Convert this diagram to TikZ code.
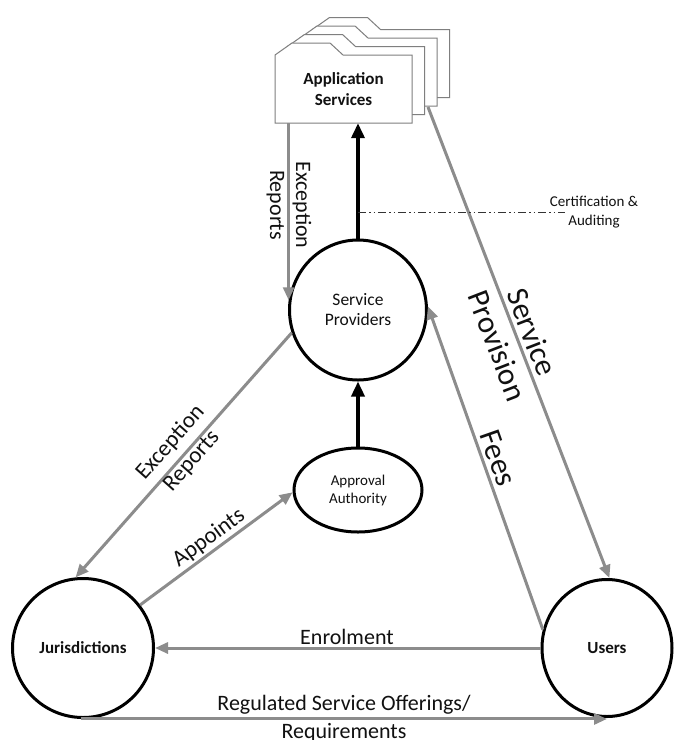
\documentclass[tikz,border=0pt]{standalone}
\usepackage{fontspec}
\setmainfont{Carlito}
\usetikzlibrary{arrows.meta,shapes.geometric}
\definecolor{lgray}{HTML}{8C8C8C}
\definecolor{cgray}{HTML}{7F7F7F}
\definecolor{txt}{HTML}{111111}
\newcommand{\myfs}[2]{\fontsize{#1}{#2}\selectfont}
\begin{document}
\begin{tikzpicture}[x=1pt,y=-1pt,
  every node/.style={text=txt},
  entity/.style={ellipse, draw=black, line width=3pt, fill=white, inner sep=0pt, align=center},
  grayarrow/.style={draw=lgray, line width=3pt, -{Triangle[length=13pt,width=11pt]}},
  blackarrow/.style={draw=black, line width=3.5pt, -{Triangle[length=15pt,width=13pt]}},
  card/.style={draw=cgray, line width=1pt, fill=white},
  lbl/.style={align=center, inner sep=0pt},
]
\useasboundingbox[fill=white] (0,0) rectangle (674,740);

% application service cards
\foreach \k in {3,2,1,0}{
  \draw[card] ({275+12.5*\k},{123-8.5*\k}) -- ++(0,-68) -- ++(17,-12) -- ++(38,0) -- ++(13,12)
    -- ({412+12.5*\k},{55-8.5*\k}) -- ++(0,68) -- cycle;
}
\node[lbl, minimum width=137pt, minimum height=68pt, font=\bfseries\myfs{17}{21}] (as) at (343.5,89) {Application\\Services};

% entities
\node[entity, minimum width=137pt, minimum height=140pt, font=\myfs{17.5}{20}] (sp) at (358,310) {Service\\Providers};
\node[entity, minimum width=128pt, minimum height=84pt, font=\myfs{15}{18}] (aa) at (358,490) {Approval\\Authority};
\node[entity, minimum width=141pt, minimum height=139pt, font=\bfseries\myfs{17}{20}] (ju) at (83,648) {Jurisdictions};
\node[entity, minimum width=130pt, minimum height=137pt, font=\bfseries\myfs{17}{20}] (us) at (607,648) {Users};

% black arrows
\draw[blackarrow] (sp.north) -- (sp.north |- as.south);
\draw[blackarrow] (aa.north) -- (aa.north |- sp.south);

% gray arrows
\coordinate (spstart) at (428,107);
\draw[grayarrow] (sp.172 |- as.south) -- (sp.172);
\draw[grayarrow] (sp.199) -- (ju.96);
\draw[grayarrow] (ju.37) -- (aa.182);
\draw[grayarrow] (spstart) -- (us.88);
\draw[grayarrow] (us.164) -- (sp.3);
\draw[grayarrow] (us.west) -- (ju.east);
\draw[grayarrow] (ju.268) -- (ju.268 -| us.south);

% certification line
\coordinate (cstart) at (358,212);
\coordinate (cend) at (565,212);
\draw[draw=black!80, line width=1pt, dash pattern=on 8pt off 3pt on 1.5pt off 3pt on 1.5pt off 3pt] (cstart) -- (cend);
\node[lbl, font=\myfs{15}{19}] (cert) at (594,212) {Certification \&\\Auditing};

% labels
\node[lbl, rotate=-90, font=\myfs{22}{26}] (l1) at (289,205) {Exception\\Reports};
\node[lbl, rotate=48.5, font=\myfs{23}{28}] (l2) at (181,452) {Exception\\Reports};
\node[lbl, rotate=36.3, font=\myfs{23}{28}] (l3) at (209,538) {Appoints};
\node[lbl, rotate=-68.9, font=\myfs{31}{37}] (l4) at (515,339) {Service\\Provision};
\node[lbl, rotate=-70.7, font=\myfs{31}{37}] (l5) at (498,458) {Fees};
\node[lbl, font=\myfs{22}{28}] (l6) at (347,637) {Enrolment};
\node[lbl, font=\myfs{22}{28}] (l7) at (344,719) {Regulated Service Offerings/\\Requirements};
\end{tikzpicture}
\end{document}
